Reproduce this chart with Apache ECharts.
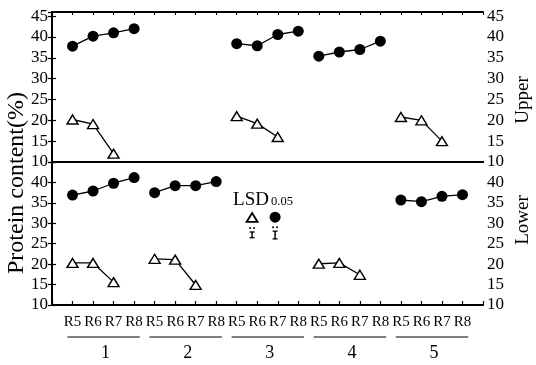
<!DOCTYPE html>
<html><head><meta charset="utf-8">
<script src="https://cdn.jsdelivr.net/npm/echarts@6/dist/echarts.min.js"></script>
<style>html,body{margin:0;padding:0;background:#fff}#c{width:536px;height:365px}</style>
</head><body><div id="c"></div>
<script>
// ---- data ----
const stages = ['R5','R6','R7','R8'];
const groupNames = ['1','2','3','4','5'];
const upperCircle   = [[37.8,40.2,41.0,42.0], null, [38.4,37.9,40.6,41.4], [35.4,36.4,37.0,39.0], null];
const upperTriangle = [[20.2,19.1,12.0], null, [21.0,19.2,16.0], null, [20.8,20.0,15.0]];
const lowerCircle   = [[36.9,37.9,39.8,41.2], [37.5,39.2,39.2,40.2], null, null, [35.7,35.3,36.6,37.0]];
const lowerTriangle = [[20.3,20.3,15.6], [21.3,21.1,14.9], null, [20.1,20.3,17.4], null];
const upperTicks = [10,15,20,25,30,35,40,45];
const lowerTicks = [10,15,20,25,30,35,40];
const lsdLabel = 'LSD', lsdSub = '0.05';
const lsdTriangle = 1.4, lsdCircle = 1.9;

// ---- chart ----
const FONT = 'Liberation Serif';
const xLabels = groupNames.flatMap(() => stages);
const black = '#000';

function makeSeries(arr, kind, xi, yi) {
  const out = [];
  arr.forEach((vals, g) => {
    if (!vals) return;
    out.push({
      type: 'line', xAxisIndex: xi, yAxisIndex: yi,
      data: vals.map((v, s) => [4 * g + s + 1, v]),
      symbol: kind === 'c' ? 'circle' : 'triangle',
      symbolSize: kind === 'c' ? 11 : [11, 9],
      itemStyle: kind === 'c' ? { color: black } : { color: '#fff', borderColor: black, borderWidth: 1.4 },
      lineStyle: { color: black, width: 1.3 },
      animation: false, z: 3
    });
  });
  return out;
}

function xAx(grid, pos, opts) {
  return Object.assign({
    type: 'value', gridIndex: grid, position: pos, min: 0, max: 21, interval: 1,
    axisLine: { show: true, onZero: false, lineStyle: { color: black, width: 2 } },
    axisTick: { show: false }, axisLabel: { show: false }, splitLine: { show: false }
  }, opts || {});
}
function yAx(grid, pos, max, ticks) {
  return {
    type: 'value', gridIndex: grid, position: pos, min: 10, max: max, interval: 5,
    axisLine: { show: true, lineStyle: { color: black, width: 2 } },
    axisTick: { show: true, length: 4, lineStyle: { color: black, width: 1.2 } },
    axisLabel: { margin: 4, color: black, fontFamily: FONT, fontSize: 17,
      formatter: v => ticks.includes(v) ? String(v) : '' },
    splitLine: { show: false }
  };
}

const chart = echarts.init(document.getElementById('c'), null, { renderer: 'canvas' });
const option = {
  animation: false,
  backgroundColor: '#fff',
  textStyle: { fontFamily: FONT },
  grid: [
    { left: 52, right: 53, top: 12, height: 150 },
    { left: 52, right: 53, top: 162, height: 143 }
  ],
  xAxis: [
    xAx(0, 'bottom'),
    xAx(0, 'top', { axisTick: { show: true, inside: true, length: 3, lineStyle: { color: black } } }),
    xAx(1, 'bottom', {
      axisTick: { show: true, inside: true, length: 4, lineStyle: { color: black, width: 1.2 } },
      axisLabel: { show: true, margin: 10, color: black, fontFamily: FONT, fontSize: 15,
        formatter: v => (v >= 1 && v <= xLabels.length) ? xLabels[v - 1] : '' }
    }),
    xAx(1, 'top')
  ],
  yAxis: [
    yAx(0, 'left', 46, upperTicks),
    yAx(0, 'right', 46, upperTicks),
    yAx(1, 'left', 45, lowerTicks),
    yAx(1, 'right', 45, lowerTicks)
  ],
  graphic: [
    { type: 'text', x: 17, y: 183, rotation: Math.PI / 2,
      style: { text: 'Protein content(%)', font: '24px "Liberation Serif"', align: 'center', verticalAlign: 'middle', fill: black } },
    { type: 'text', x: 523, y: 100, rotation: Math.PI / 2,
      style: { text: 'Upper', font: '19px "Liberation Serif"', align: 'center', verticalAlign: 'middle', fill: black } },
    { type: 'text', x: 523, y: 220, rotation: Math.PI / 2,
      style: { text: 'Lower', font: '19px "Liberation Serif"', align: 'center', verticalAlign: 'middle', fill: black } }
  ],
  series: [
    ...makeSeries(upperCircle, 'c', 0, 0),
    ...makeSeries(upperTriangle, 't', 0, 0),
    ...makeSeries(lowerCircle, 'c', 2, 2),
    ...makeSeries(lowerTriangle, 't', 2, 2),
    {
      type: 'custom', xAxisIndex: 2, yAxisIndex: 2, clip: false, silent: true,
      data: groupNames.map((n, g) => [g, 10]),
      renderItem(params, api) {
        const g = api.value(0);
        const p1 = api.coord([4 * g + 1 - 0.25, 10]);
        const p2 = api.coord([4 * g + 4 + 0.28, 10]);
        const y = p1[1];
        return { type: 'group', children: [
          { type: 'line', shape: { x1: p1[0], y1: y + 32, x2: p2[0], y2: y + 32 }, style: { stroke: black, lineWidth: 1.2 } },
          { type: 'text', style: { text: groupNames[g], x: (p1[0] + p2[0]) / 2 + 2, y: y + 48, align: 'center', verticalAlign: 'middle', font: '18px "Liberation Serif"', fill: black } }
        ]};
      }
    },
    {
      type: 'custom', xAxisIndex: 2, yAxisIndex: 2, clip: false, silent: true,
      data: [[9.75, 31.3, lsdTriangle, 0], [10.87, 31.5, lsdCircle, 1]],
      renderItem(params, api) {
        const p = api.coord([api.value(0), api.value(1)]);
        const len = api.size([0, api.value(2)])[1];
        const kind = api.value(3);
        const px = p[0], py = p[1];
        const ch = [];
        if (kind === 0) {
          ch.push({ type: 'polygon', shape: { points: [[px, py - 5], [px + 5.5, py + 4], [px - 5.5, py + 4]] }, style: { fill: '#fff', stroke: black, lineWidth: 1.8 } });
          ch.push({ type: 'text', style: { text: lsdLabel, x: px - 19, y: py - 18, align: 'left', verticalAlign: 'middle', font: '19px "Liberation Serif"', fill: black } });
          ch.push({ type: 'text', style: { text: lsdSub, x: px + 19, y: py - 16, align: 'left', verticalAlign: 'middle', font: '12.5px "Liberation Serif"', fill: black } });
        } else {
          ch.push({ type: 'circle', shape: { cx: px, cy: py, r: 5.5 }, style: { fill: black } });
        }
        const top = py + 14;
        ch.push({ type: 'circle', shape: { cx: px - 2, cy: py + 10, r: 1 }, style: { fill: black } });
        ch.push({ type: 'circle', shape: { cx: px + 2, cy: py + 10, r: 1 }, style: { fill: black } });
        ch.push({ type: 'line', shape: { x1: px, y1: top, x2: px, y2: top + len }, style: { stroke: black, lineWidth: 1.5 } });
        ch.push({ type: 'line', shape: { x1: px - 2.5, y1: top, x2: px + 2.5, y2: top }, style: { stroke: black, lineWidth: 1.3 } });
        ch.push({ type: 'line', shape: { x1: px - 2.5, y1: top + len, x2: px + 2.5, y2: top + len }, style: { stroke: black, lineWidth: 1.3 } });
        return { type: 'group', children: ch };
      }
    }
  ]
};
chart.setOption(option);
</script>
</body></html>
